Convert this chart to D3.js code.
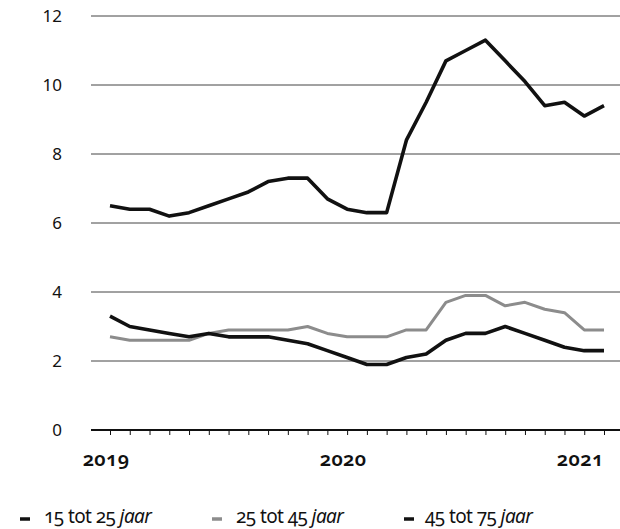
<!DOCTYPE html>
<html>
<head>
<meta charset="utf-8">
<script src="https://cdn.jsdelivr.net/npm/d3@7/dist/d3.min.js"></script>
<style>
  html, body { margin: 0; padding: 0; background: #fff; }
  svg { display: block; font-family: "Noto Sans", "Open Sans", sans-serif; }
  .onum { font-variant-numeric: oldstyle-nums; font-feature-settings: "onum" 1; }
</style>
</head>
<body>
<svg id="chart" width="620" height="529"></svg>
<script>
// Monthly values, January 2019 through February 2021
const months = d3.range(26);
const yearTicks = [0, 12, 24];
const yearLabels = ["2019", "2020", "2021"];
const yTicks = [0, 2, 4, 6, 8, 10, 12];

const age15to25 = [6.5, 6.4, 6.4, 6.2, 6.3, 6.5, 6.7, 6.9, 7.2, 7.3, 7.3, 6.7, 6.4,
                   6.3, 6.3, 8.4, 9.5, 10.7, 11.0, 11.3, 10.7, 10.1, 9.4, 9.5, 9.1, 9.4];
const age25to45 = [2.7, 2.6, 2.6, 2.6, 2.6, 2.8, 2.9, 2.9, 2.9, 2.9, 3.0, 2.8, 2.7,
                   2.7, 2.7, 2.9, 2.9, 3.7, 3.9, 3.9, 3.6, 3.7, 3.5, 3.4, 2.9, 2.9];
const age45to75 = [3.3, 3.0, 2.9, 2.8, 2.7, 2.8, 2.7, 2.7, 2.7, 2.6, 2.5, 2.3, 2.1,
                   1.9, 1.9, 2.1, 2.2, 2.6, 2.8, 2.8, 3.0, 2.8, 2.6, 2.4, 2.3, 2.3];

const seriesNames = ["15 tot 25", "25 tot 45", "45 tot 75"];
const seriesColors = ["#111111", "#8c8c8c", "#111111"];

const svg = d3.select("#chart");

const x = d3.scaleLinear().domain([0, 25]).range([110, 604]);
const y = d3.scaleLinear().domain([0, 12]).range([430, 16]);

const gridLeft = 91, gridRight = 620;

// horizontal grid lines
svg.append("g")
  .selectAll("line")
  .data(yTicks.filter(d => d > 0))
  .join("line")
  .attr("x1", gridLeft).attr("x2", gridRight)
  .attr("y1", d => y(d)).attr("y2", d => y(d))
  .attr("stroke", "#444").attr("stroke-width", 1);

// y-axis labels
svg.append("g")
  .selectAll("text")
  .data(yTicks)
  .join("text")
  .attr("x", 62)
  .attr("y", d => y(d))
  .attr("dy", "0.36em")
  .attr("text-anchor", "end")
  .attr("font-size", 17)
  .attr("fill", "#111")
  .text(d => d);

// x axis with monthly ticks
const xAxis = d3.axisBottom(x)
  .tickValues(months)
  .tickSize(5)
  .tickFormat("");
const gx = svg.append("g")
  .attr("transform", `translate(0,${y(0)})`)
  .call(xAxis);
gx.select(".domain").remove();
gx.selectAll(".tick line").attr("stroke", "#111").attr("stroke-width", 1);

svg.append("line")
  .attr("x1", gridLeft).attr("x2", gridRight)
  .attr("y1", y(0)).attr("y2", y(0))
  .attr("stroke", "#111").attr("stroke-width", 2.2);

// year labels
svg.append("g")
  .selectAll("text")
  .data(yearTicks)
  .join("text")
  .attr("class", "onum")
  .attr("x", d => x(d) - 4)
  .attr("y", 466)
  .attr("text-anchor", "middle")
  .attr("font-size", 20)
  .attr("font-weight", 600)
  .attr("letter-spacing", 0.3)
  .attr("fill", "#111")
  .text((d, i) => yearLabels[i]);

// series lines
const line = d3.line()
  .x((d, i) => x(months[i]))
  .y(d => y(d));

const seriesData = [age15to25, age25to45, age45to75];
[1, 0, 2].forEach(k => {
  svg.append("path")
    .datum(seriesData[k])
    .attr("fill", "none")
    .attr("stroke", seriesColors[k])
    .attr("stroke-width", k === 1 ? 3 : 3.6)
    .attr("stroke-linejoin", "round")
    .attr("stroke-linecap", "butt")
    .attr("d", line);
});

// legend
const legendX = [20, 212, 404];
const legendTextX = [44, 236, 425];
const legend = svg.append("g");
seriesNames.forEach((name, k) => {
  legend.append("line")
    .attr("x1", legendX[k]).attr("x2", legendX[k] + 10)
    .attr("y1", 519).attr("y2", 519)
    .attr("stroke", seriesColors[k]).attr("stroke-width", 3.5);
  const t = legend.append("text")
    .attr("class", "onum")
    .attr("x", legendTextX[k])
    .attr("y", 523)
    .attr("font-size", 19)
    .attr("letter-spacing", -0.6)
    .attr("fill", "#111");
  t.append("tspan").text(name + " ");
  t.append("tspan").attr("font-style", "italic").text("jaar");
});
</script>
</body>
</html>
